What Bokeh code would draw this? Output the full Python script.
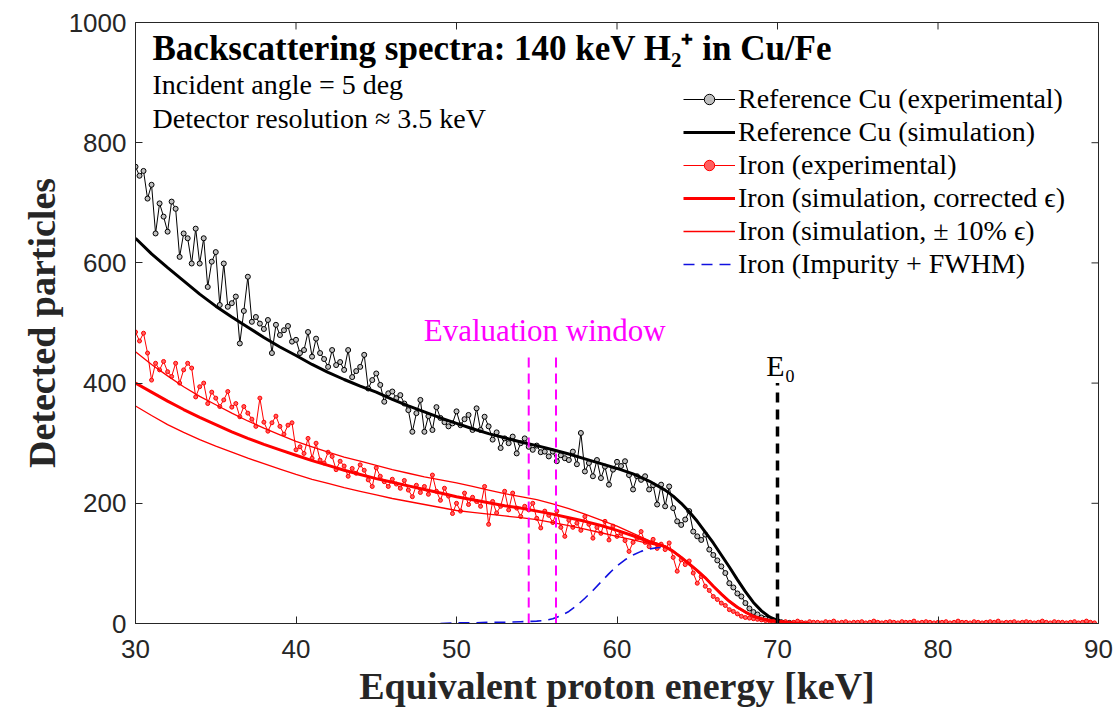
import numpy as np
from bokeh.plotting import figure
from bokeh.models import Range1d, Legend, LegendItem, Label, FixedTicker
from bokeh.embed import file_html
from bokeh.resources import INLINE

# ---------------- data ----------------
# Reference Cu, experimental (0.25 keV bins from 30 to 71 keV)
cu_exp_e = np.arange(30.0, 71.001, 0.25)
cu_exp_v = [
    760, 745, 753, 707, 730, 649, 699, 677, 652, 702, 690, 610,
    649, 641, 599, 657, 599, 641, 560, 602, 618, 530, 599, 527,
    533, 544, 466, 520, 577, 502, 510, 499, 490, 505, 450, 497,
    480, 488, 495, 469, 472, 450, 455, 485, 444, 474, 450, 440,
    427, 455, 430, 435, 422, 455, 410, 420, 427, 447, 391, 405,
    416, 397, 369, 383, 386, 375, 380, 366, 355, 319, 350, 372,
    319, 345, 322, 360, 342, 335, 328, 333, 353, 330, 340, 347,
    322, 358, 322, 344, 328, 306, 318, 292, 308, 300, 311, 283,
    300, 308, 294, 289, 296, 285, 286, 278, 286, 270, 280, 275,
    272, 286, 265, 317, 253, 267, 245, 272, 242, 261, 231, 256,
    269, 262, 270, 247, 223, 245, 239, 245, 223, 230, 198, 231,
    195, 228, 192, 170, 164, 173, 187, 153, 145, 139, 148, 123,
    114, 105, 95, 84, 67, 60, 50, 45, 34, 25, 19, 15,
    10, 8, 7, 5, 4, 2, 1, 1, 0,
]

# Reference Cu, simulation
cu_sim_e = [30, 31, 32, 33, 34, 35, 36, 37, 38, 39, 40, 41, 42, 43, 44, 45,
            46, 47, 48, 49, 50, 51, 52, 53, 54, 55, 56, 57, 58, 59, 60, 61,
            62, 63, 63.5, 64, 64.5, 65, 65.5, 66, 66.5, 67, 67.5, 68, 68.5,
            69, 69.5, 70, 70.5, 71, 72]
cu_sim_v = [641, 615, 592, 570, 548, 528, 510, 493, 476, 460, 446, 431, 418,
            406, 395, 385, 373, 362, 352, 342, 333, 324, 316, 309, 302, 296,
            289, 282, 274, 266, 258, 249, 237, 222, 212, 200, 186, 170, 152,
            134, 114, 94, 73, 53, 35, 21, 11, 5, 2, 1, 0]

# Iron, experimental (0.25 keV bins from 30 to 90 keV)
fe_exp_e = np.arange(30.0, 90.001, 0.25)
fe_exp_v = [
    485, 470, 483, 450, 405, 433, 422, 436, 419, 411, 433, 400,
    422, 433, 425, 377, 394, 400, 366, 385, 375, 361, 372, 386,
    360, 366, 344, 361, 350, 340, 328, 375, 335, 320, 334, 345,
    328, 315, 330, 334, 289, 294, 283, 308, 275, 300, 272, 267,
    285, 278, 256, 270, 262, 245, 258, 250, 264, 255, 239, 228,
    259, 245, 236, 228, 240, 232, 225, 238, 222, 211, 230, 218,
    228, 215, 247, 220, 205, 225, 212, 183, 200, 187, 217, 198,
    210, 203, 195, 228, 165, 203, 184, 195, 220, 189, 217, 192,
    178, 195, 189, 200, 175, 159, 187, 180, 168, 187, 160, 145,
    172, 160, 167, 155, 178, 165, 142, 160, 150, 170, 139, 162,
    145, 150, 138, 120, 135, 142, 153, 135, 128, 140, 125, 132,
    123, 134, 110, 87, 106, 98, 104, 84, 67, 78, 62, 55,
    45, 40, 34, 30, 23, 20, 16, 12, 10, 9, 8, 7,
    6, 5, 4, 3, 2,
    2, 3, 1, 2, 4, 2, 1, 3, 2, 2, 1, 3, 2, 4, 1, 2, 3, 1, 2, 2,
    3, 1, 2, 4, 2, 1, 2, 3, 2, 1, 3, 2, 2, 4, 1, 2, 3, 2, 1, 2,
    2, 3, 1, 2, 4, 2, 2, 1, 3, 2, 1, 2, 3, 2, 4, 1, 2, 2, 3, 1,
    2, 3, 2, 1, 2, 4, 2, 1, 3, 2, 2, 1, 2, 3, 1, 2, 4, 2, 1,
]

# Iron, simulation with corrected stopping
fe_sim_e = [30, 31, 32, 33, 34, 35, 36, 37, 38, 39, 40, 41, 42, 43, 44, 45,
            46, 47, 48, 49, 50, 51, 52, 53, 54, 55, 56, 57, 58, 59, 60, 61,
            62, 63, 63.5, 64, 64.5, 65, 65.5, 66, 66.5, 67, 67.5, 68, 68.5,
            69, 69.5, 70, 71, 72]
fe_sim_v = [400, 385, 370, 356, 343, 331, 319, 308, 298, 289, 280, 271, 263,
            255, 248, 241, 235, 229, 223, 217, 211, 206, 201, 196, 192, 187,
            182, 176, 170, 163, 155, 146, 136, 128, 120, 110, 99, 88, 76, 62,
            49, 37, 27, 19, 12, 8, 5, 3, 1, 0]

# Iron, simulation with +/- 10 % stopping (upper and lower)
fe_hi_e = [30, 31, 32, 33, 34, 35, 36, 37, 38, 39, 40, 41, 42, 43, 44, 45,
           46, 47, 48, 49, 50, 51, 52, 53, 54, 55, 56, 57, 58, 59, 60, 61,
           62, 63, 63.5, 64, 64.5, 65, 65.5, 66, 66.5, 67, 67.5, 68, 68.5,
           69, 69.5, 70, 71, 72]
fe_hi_v = [452, 431, 412, 394, 378, 364, 350, 337, 325, 314, 303, 294, 285,
           277, 270, 263, 256, 250, 244, 239, 234, 228, 222, 216, 211, 206,
           199, 191, 182, 172, 162, 150, 138, 129, 121, 111, 100, 89, 77, 63,
           50, 38, 28, 20, 13, 8, 5, 3, 1, 0]
fe_lo_e = [30, 31, 32, 33, 34, 35, 36, 37, 38, 39, 40, 41, 42, 43, 44, 45,
           46, 47, 48, 49, 50, 51, 52, 53, 54, 55, 56, 57, 58, 59, 60, 61,
           62, 63, 63.5, 64, 64.5, 65, 65.5, 66, 66.5, 67, 67.5, 68, 68.5,
           69, 69.5, 70, 71, 72]
fe_lo_v = [362, 346, 331, 318, 306, 295, 285, 275, 266, 257, 248, 240, 233,
           226, 220, 214, 208, 203, 198, 193, 188, 185, 182, 179, 176, 173,
           168, 163, 157, 151, 145, 139, 133, 127, 119, 109, 98, 87, 75, 61,
           48, 36, 26, 18, 12, 8, 5, 3, 1, 0]

# Iron, impurity + FWHM
imp_e = [49, 50, 51, 52, 53, 54, 55, 55.5, 56, 56.5, 57, 57.5, 58, 58.5, 59,
         59.5, 60, 60.5, 61, 61.5, 62, 62.5, 63]
imp_v = [0, 1, 1, 2, 2, 3, 4, 5, 8, 13, 20, 30, 42, 55, 69, 83, 96, 106, 114,
         120, 124, 126, 127]

# Markers
eval_window_e = [54.5, 56.2]
eval_window_top = 445
e0_energy = 70.0
e0_top = 400

x_ticks = [30, 40, 50, 60, 70, 80, 90]
y_ticks = [0, 200, 400, 600, 800, 1000]
X_MIN, X_MAX, Y_MIN, Y_MAX = 30, 90, 0, 1000

# ---------------- figure ----------------
AX = "#262626"
FRAME_W, FRAME_H = 963, 602
p = figure(width=1117, height=709, x_range=Range1d(X_MIN, X_MAX),
           y_range=Range1d(Y_MIN, Y_MAX), output_backend="svg",
           toolbar_location=None, min_border_left=135, min_border_right=19,
           min_border_top=22, min_border_bottom=85)
p.background_fill_color = "white"
p.border_fill_color = "white"
p.outline_line_color = AX
p.outline_line_width = 1
p.xgrid.visible = False
p.ygrid.visible = False

for ax, ticks in ((p.xaxis[0], x_ticks), (p.yaxis[0], y_ticks)):
    ax.ticker = FixedTicker(ticks=ticks)
    ax.major_tick_in = 7
    ax.major_tick_out = 0
    ax.minor_tick_in = 0
    ax.minor_tick_out = 0
    ax.axis_line_color = AX
    ax.major_tick_line_color = AX
    ax.major_label_text_font = "Liberation Sans"
    ax.major_label_text_font_size = "26px"
    ax.major_label_text_color = AX
    ax.axis_label_text_font = "Liberation Serif"
    ax.axis_label_text_font_style = "bold"
    ax.axis_label_text_font_size = "38px"
    ax.axis_label_text_color = AX

p.xaxis.axis_label = "Equivalent proton energy [keV]"
p.yaxis.axis_label = "Detected particles"
p.xaxis.major_label_standoff = 16
p.yaxis.major_label_standoff = 9
p.xaxis.axis_label_standoff = 4
p.yaxis.axis_label_standoff = 3

# mirrored inward ticks on the top and right edges of the box
tick_len_y = 7 * (Y_MAX - Y_MIN) / FRAME_H
tick_len_x = 7 * (X_MAX - X_MIN) / FRAME_W
p.segment(x0=x_ticks, x1=x_ticks, y0=[Y_MAX] * len(x_ticks),
          y1=[Y_MAX - tick_len_y] * len(x_ticks), line_color=AX, line_width=1)
p.segment(x0=[X_MAX] * len(y_ticks), x1=[X_MAX - tick_len_x] * len(y_ticks),
          y0=y_ticks, y1=y_ticks, line_color=AX, line_width=1)

# ---------------- glyphs ----------------
r_cu_l = p.line(cu_exp_e, cu_exp_v, line_color="black", line_width=1)
r_cu_m = p.scatter(cu_exp_e, cu_exp_v, size=5, line_color="black",
                   fill_color="#bfbfbf", line_width=1)
r_cu_s = p.line(cu_sim_e, cu_sim_v, line_color="black", line_width=3)

r_fe_l = p.line(fe_exp_e, fe_exp_v, line_color="red", line_width=1)
r_fe_m = p.scatter(fe_exp_e, fe_exp_v, size=4, line_color="red",
                   fill_color="#ff6060", line_width=1)
r_fe_s = p.line(fe_sim_e, fe_sim_v, line_color="red", line_width=3)
r_fe_hi = p.line(fe_hi_e, fe_hi_v, line_color="red", line_width=1.3)
r_fe_lo = p.line(fe_lo_e, fe_lo_v, line_color="red", line_width=1.3)

r_imp = p.line(imp_e, imp_v, line_color="#1010e0", line_width=1.6,
               line_dash="11 7")

p.segment(x0=eval_window_e, y0=[0, 0], x1=eval_window_e,
          y1=[eval_window_top, eval_window_top], line_color="#ff00ff",
          line_width=2, line_dash="10 6")
p.segment(x0=[e0_energy], y0=[0], x1=[e0_energy], y1=[e0_top],
          line_color="black", line_width=3.5, line_dash="10 7")

# ---------------- legend ----------------
legend = Legend(items=[
    LegendItem(label="Reference Cu (experimental)", renderers=[r_cu_l, r_cu_m]),
    LegendItem(label="Reference Cu (simulation)", renderers=[r_cu_s]),
    LegendItem(label="Iron (experimental)", renderers=[r_fe_l, r_fe_m]),
    LegendItem(label="Iron (simulation, corrected \u03f5)", renderers=[r_fe_s]),
    LegendItem(label="Iron (simulation, \u00b1 10% \u03f5)", renderers=[r_fe_hi]),
    LegendItem(label="Iron (Impurity + FWHM)", renderers=[r_imp]),
], location=(548, 343), label_text_font="Liberation Serif",
    label_text_font_size="28px", label_text_color="black",
    glyph_width=52, glyph_height=26, label_height=26, spacing=1,
    padding=0, margin=0, label_standoff=3, border_line_alpha=0,
    background_fill_alpha=0)
p.add_layout(legend)

# ---------------- annotations ----------------
def lab(x, y, text, size, style="normal", color="black", align="left"):
    p.add_layout(Label(x=x, y=y, text=text, text_font="Liberation Serif",
                       text_font_size=size, text_font_style=style,
                       text_color=color, text_align=align,
                       text_baseline="alphabetic"))

lab(31.06, 957, "Backscattering spectra: 140 keV H\u2082\u207a in Cu/Fe", "35px", "bold")
lab(31.06, 897, "Incident angle = 5 deg", "28px")
lab(31.06, 841, "Detector resolution \u2248 3.5 keV", "28px")
lab(55.5, 488, "Evaluation window", "31px", color="#ff00ff", align="center")
lab(70.2, 429, "E\u2080", "30px", align="center")

open("out.html", "w").write(file_html(p, INLINE))
